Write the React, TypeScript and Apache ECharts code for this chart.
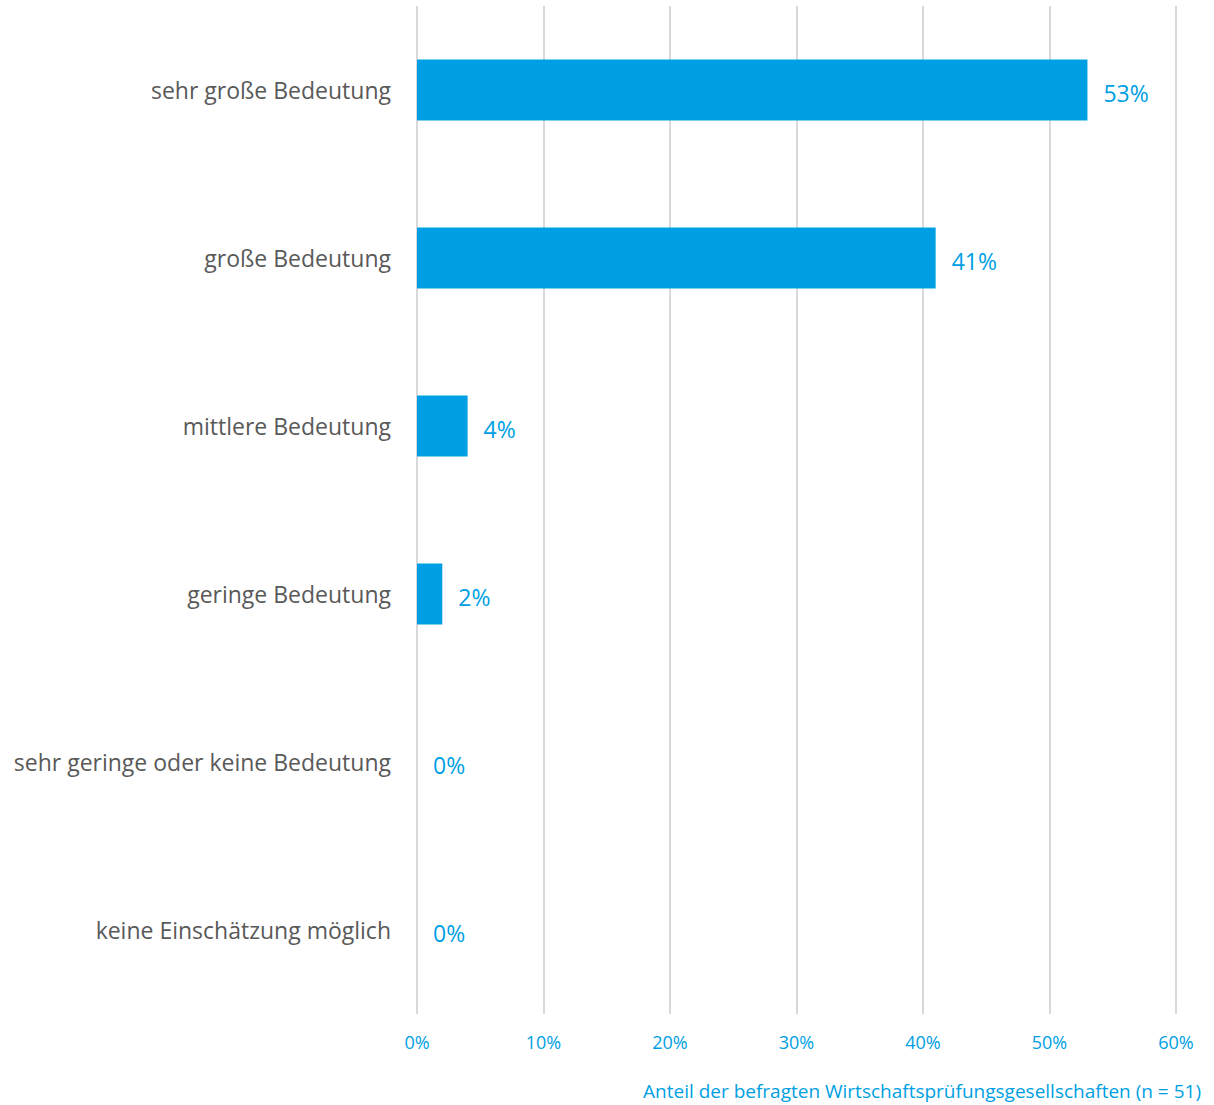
import React, { useEffect, useRef } from "react";
import * as echarts from "echarts";

const categories = [
  "sehr große Bedeutung",
  "große Bedeutung",
  "mittlere Bedeutung",
  "geringe Bedeutung",
  "sehr geringe oder keine Bedeutung",
  "keine Einschätzung möglich",
];
const values = [53, 41, 4, 2, 0, 0];
const xTicks = [0, 10, 20, 30, 40, 50, 60];
const axisTitle = "Anteil der befragten Wirtschaftsprüfungsgesellschaften (n = 51)";

const BLUE = "#009FE3";
const FONT = "'Open Sans', 'Noto Sans', sans-serif";

export default function App() {
  const ref = useRef<HTMLDivElement>(null);
  useEffect(() => {
    document.body.style.margin = "0";
    const chart = echarts.init(ref.current!, null, { renderer: "svg" });
    chart.setOption({
      animation: false,
      grid: { left: 417, right: 38, top: 6, bottom: 91, containLabel: false },
      xAxis: {
        type: "value",
        min: xTicks[0],
        max: xTicks[xTicks.length - 1],
        interval: 10,
        axisLine: { show: false },
        axisTick: { show: false },
        splitLine: { show: true, lineStyle: { color: "#D9D9D9", width: 2 } },
        axisLabel: {
          formatter: (v: number) => v + "%",
          color: BLUE,
          fontSize: 18,
          fontFamily: FONT,
          margin: 19,
        },
      },
      yAxis: {
        type: "category",
        data: categories,
        inverse: true,
        axisLine: { show: false },
        axisTick: { show: false },
        splitLine: { show: false },
        axisLabel: {
          color: "#595959",
          fontSize: 23,
          fontFamily: FONT,
          margin: 26,
        },
      },
      series: [
        {
          type: "bar",
          data: values,
          barWidth: 61,
          itemStyle: { color: BLUE },
          label: {
            show: true,
            position: "right",
            distance: 16,
            offset: [0, 3],
            formatter: "{c}%",
            color: BLUE,
            fontSize: 23,
            fontFamily: FONT,
          },
        },
      ],
      graphic: [
        {
          type: "text",
          right: 13,
          top: 1081,
          style: {
            text: axisTitle,
            fill: BLUE,
            fontSize: 19,
            fontFamily: FONT,
          },
        },
      ],
    });
    return () => chart.dispose();
  }, []);
  return <div ref={ref} style={{ width: 1214, height: 1105 }} />;
}
